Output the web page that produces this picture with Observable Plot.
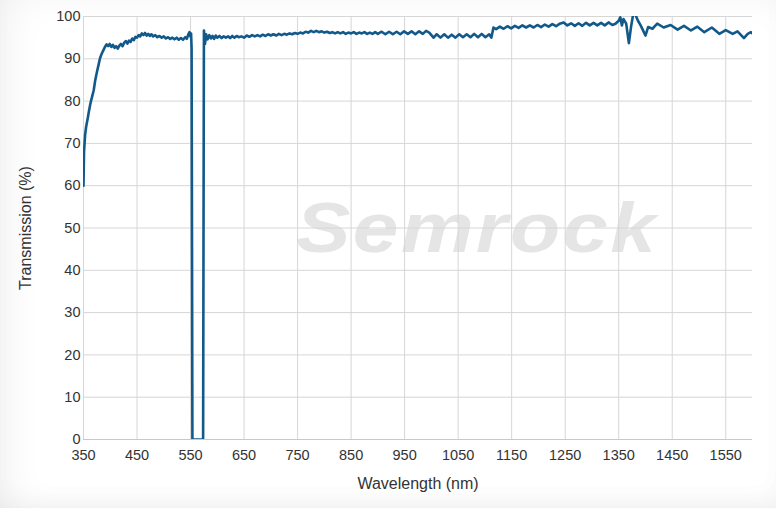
<!DOCTYPE html>
<html>
<head>
<meta charset="utf-8">
<script src="https://cdn.jsdelivr.net/npm/d3@7"></script>
<script src="https://cdn.jsdelivr.net/npm/@observablehq/plot@0.6"></script>
<style>
  html, body { margin: 0; padding: 0; background: #fff; }
  #wrap { width: 776px; height: 508px; position: relative; box-shadow: inset 14px 0 40px -10px rgba(0,0,0,0.07), inset 0 -14px 30px -14px rgba(0,0,0,0.05); }
</style>
</head>
<body>
<div id="wrap"><div id="chart"></div></div>
<script>
const xTicks = [350, 450, 550, 650, 750, 850, 950, 1050, 1150, 1250, 1350, 1450, 1550];
const yTicks = [0, 10, 20, 30, 40, 50, 60, 70, 80, 90, 100];

const wavelength = [
  350, 351, 353, 355, 358, 360, 363, 366, 369, 372, 375, 378, 381, 384, 387, 390, 393, 396, 399, 402,
  405, 408, 411, 414, 417, 420, 423, 426, 429, 432, 435, 438, 441, 444, 447, 450, 453, 456, 459, 462,
  465, 468, 471, 474, 477, 480, 484, 488, 492, 496, 500, 504, 508, 512, 516, 520, 524, 528, 532, 536,
  540, 543, 546, 548, 550, 551, 552, 553.5, 573.5, 575, 577, 579, 582, 585, 588, 591, 594, 597, 600,
  604, 608, 612, 616, 620, 624, 628, 632, 636, 640, 645, 650, 655, 660, 665, 670, 675, 680, 685, 690,
  695, 700, 705, 710, 715, 720, 725, 730, 735, 740, 745, 750, 755, 760, 765, 770, 775, 780, 785, 790,
  795, 800, 805, 810, 815, 820, 825, 830, 835, 840, 845, 850, 855, 860, 865, 870, 875, 880, 885, 890,
  895, 900, 907, 914, 921, 928, 935, 942, 949, 956, 963, 970, 977, 984, 990, 996, 1000, 1004, 1010, 1017,
  1024, 1031, 1038, 1045, 1052, 1059, 1066, 1073, 1080, 1087, 1094, 1101, 1108, 1112, 1116, 1121, 1128, 1135, 1142, 1149,
  1156, 1163, 1170, 1177, 1184, 1191, 1198, 1205, 1212, 1219, 1226, 1233, 1240, 1247, 1254, 1261, 1268, 1275, 1282, 1289,
  1296, 1303, 1310, 1317, 1324, 1331, 1338, 1344, 1350, 1353, 1356, 1359, 1364, 1369, 1373, 1377, 1381, 1386, 1391, 1397,
  1400, 1405, 1413, 1422, 1434, 1447, 1460, 1472, 1485, 1497, 1510, 1524, 1538, 1550, 1563, 1572, 1584, 1591, 1597, 1600
];

const transmission = [
  60, 68, 72, 74, 76, 77.5, 79.5, 81, 82.5, 85, 86.8, 88.5, 90.2, 91.2, 92, 92.8, 93.4, 93.0, 93.5, 92.8,
  93.3, 92.6, 93.0, 92.4, 93.1, 93.5, 93.0, 93.8, 94.2, 93.6, 94.3, 94.0, 94.8, 94.4, 95.2, 95.0, 95.6, 95.3, 96.0, 95.6,
  96.1, 95.5, 95.9, 95.4, 95.8, 95.3, 95.6, 95.1, 95.4, 95.0, 95.3, 94.8, 95.1, 94.7, 95.0, 94.6, 95.0, 94.5, 94.9, 94.5,
  95.1, 94.7, 95.8, 96.3, 95.2, 96.0, 92.4, 0, 0, 96.7, 93.5, 95.8, 94.6, 95.6, 94.8, 95.4, 94.7, 95.5, 95.0,
  95.4, 94.9, 95.3, 95.0, 95.3, 94.9, 95.4, 95.0, 95.4, 95.1, 95.3, 95.0, 95.5, 95.2, 95.6, 95.3, 95.6, 95.3, 95.7, 95.4,
  95.8, 95.5, 95.8, 95.5, 95.9, 95.6, 95.9, 95.7, 96.0, 95.8, 96.1, 95.9, 96.2, 96.0, 96.4, 96.2, 96.6, 96.3, 96.6, 96.3,
  96.5, 96.2, 96.4, 96.1, 96.3, 96.0, 96.3, 96.0, 96.3, 95.9, 96.2, 96.0, 96.3, 95.9, 96.2, 96.0, 96.3, 95.9, 96.2, 95.9,
  96.3, 95.9, 96.4, 95.8, 96.4, 95.8, 96.4, 95.8, 96.5, 95.9, 96.5, 95.8, 96.5, 95.9, 96.6, 96.2, 95.6, 95.0, 95.8, 95.0,
  95.8, 95.0, 95.7, 95.0, 95.8, 95.1, 95.8, 95.1, 95.9, 95.1, 95.9, 95.1, 95.8, 95.0, 97.4, 97.0, 97.6, 97.1, 97.7, 97.2,
  97.8, 97.3, 97.9, 97.4, 97.9, 97.4, 98.0, 97.5, 98.1, 97.6, 98.2, 97.7, 98.3, 98.6, 97.9, 98.4, 97.8, 98.4, 97.8, 98.5,
  97.9, 98.5, 97.9, 98.5, 97.9, 98.6, 98.0, 98.3, 99.0, 99.8, 97.9, 99.4, 98.3, 93.7, 97.5, 100.5, 100.5, 99.0, 97.9, 96.3,
  95.5, 97.5, 97.1, 98.3, 97.4, 98.0, 96.9, 97.8, 96.7, 97.6, 96.3, 97.4, 95.9, 96.8, 95.9, 96.5, 94.9, 95.9, 96.3, 96.0
];

const data = wavelength.map((w, i) => ({ w, t: transmission[i] }));

const chart = Plot.plot({
  width: 776,
  height: 508,
  marginLeft: 83,
  marginRight: 24,
  marginTop: 16,
  marginBottom: 69,
  style: { background: "transparent", fontFamily: "'Liberation Sans', Arial, sans-serif", fontSize: "14.5px", color: "#333" },
  x: { domain: [350, 1600] },
  y: { domain: [0, 100] },
  marks: [
    Plot.frame({ fill: "white", stroke: null }),
    Plot.text(["Semrock"], { frameAnchor: "middle", dx: -12, dy: 2, text: d => d, fontSize: 70, fontWeight: "bold", fontStyle: "italic", fill: "#e5e5e5", fontFamily: "'Liberation Sans', Arial, sans-serif" }),
    Plot.gridX(xTicks, { stroke: "#d6d6d6", strokeOpacity: 1 }),
    Plot.gridY(yTicks, { stroke: "#d6d6d6", strokeOpacity: 1 }),
    Plot.axisX(xTicks, { tickSize: 0, tickPadding: 10, fontSize: 14.5, fill: "#333", label: null, tickFormat: d => String(d) }),
    Plot.axisY(yTicks, { tickSize: 0, tickPadding: 3, fontSize: 14.5, fill: "#333", label: null }),
    Plot.axisX({ ticks: [], tickSize: 0, label: "Wavelength (nm)", labelAnchor: "center", labelArrow: "none", labelOffset: 49, fontSize: 16, fill: "#333" }),
    Plot.axisY({ ticks: [], tickSize: 0, label: "Transmission (%)", labelAnchor: "center", labelArrow: "none", labelOffset: 64, fontSize: 16, fill: "#333" }),
    Plot.ruleY([0], { stroke: "#c8c8c8" }),
    Plot.line(data, { x: "w", y: "t", stroke: "#12598b", strokeWidth: 2.6, clip: true, curve: "linear" })
  ]
});
d3.select(chart).selectAll("text").filter(function () { return this.textContent === "Semrock"; }).each(function () {
  const t = d3.select(this).attr("letter-spacing", "2");
  const cx = +t.attr("x") || 0, cy = +t.attr("y") || 0;
  const prev = t.attr("transform") || "";
  t.attr("transform", `translate(${cx},${cy}) scale(1.17,1) translate(${-cx},${-cy}) ${prev}`);
});
document.getElementById("chart").appendChild(chart);
</script>
</body>
</html>
